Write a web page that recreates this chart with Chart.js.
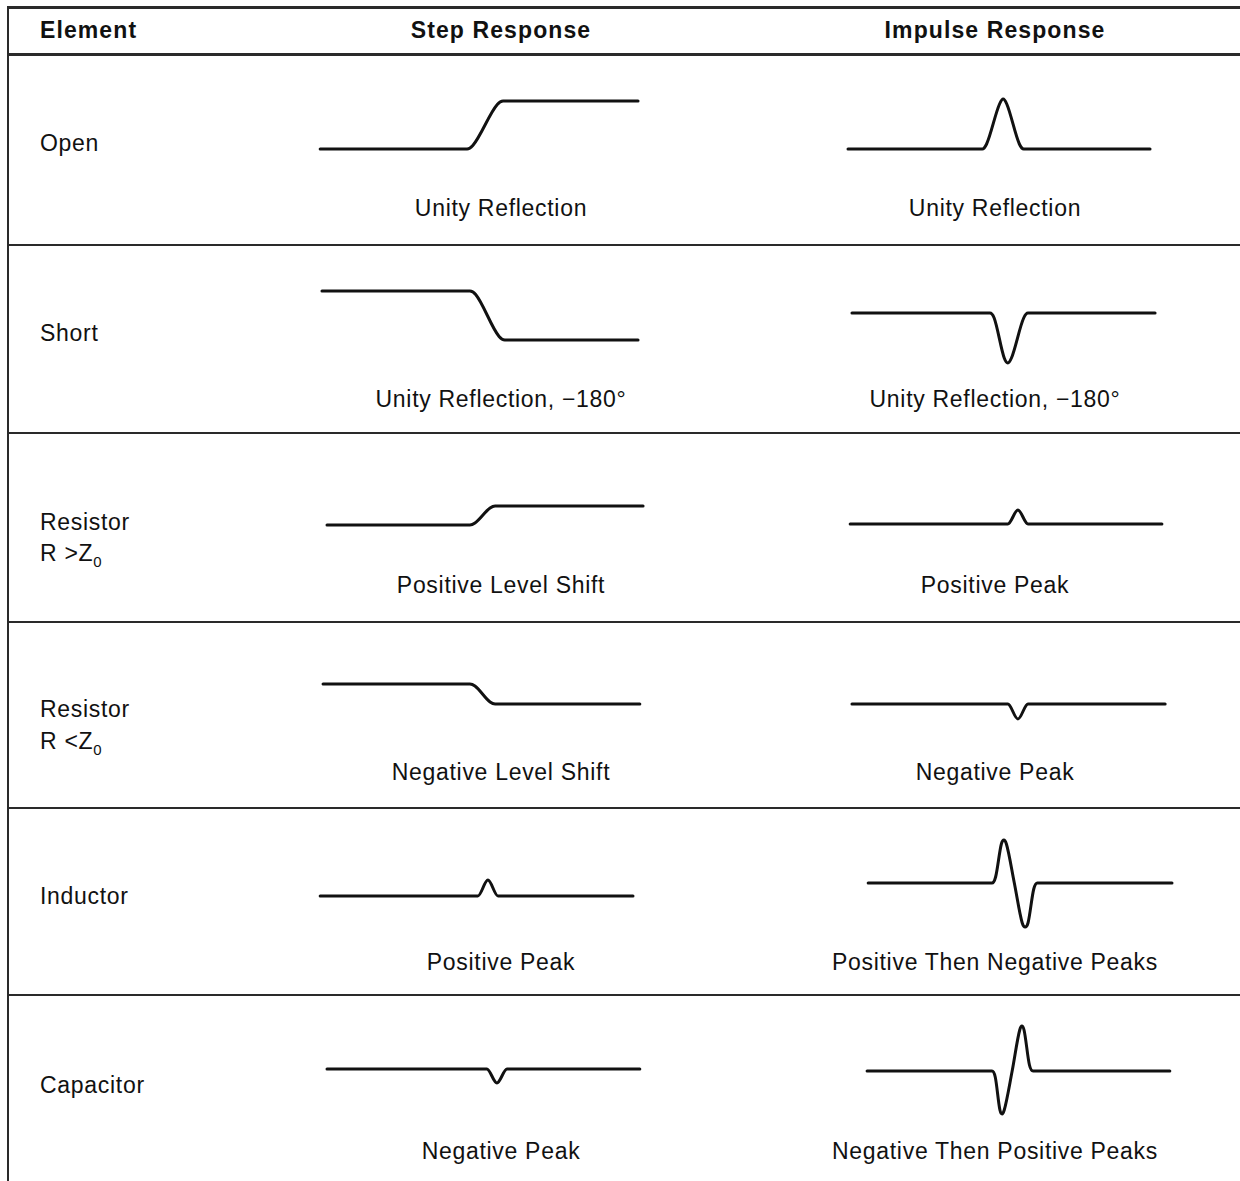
<!DOCTYPE html>
<html>
<head>
<meta charset="utf-8">
<script src="https://cdn.jsdelivr.net/npm/chart.js@4/dist/chart.umd.min.js"></script>
<style>
  html, body { margin: 0; padding: 0; background: #fff; }
  #page { position: relative; width: 1240px; height: 1181px; overflow: hidden; background: #fff;
          font-family: "Liberation Sans", Arial, Helvetica, sans-serif; color: #111; }
  .rule { position: absolute; background: #2a2a2a; }
  .txt { position: absolute; font-size: 23px; line-height: 22px; letter-spacing: 0.7px; white-space: nowrap; }
  .hdr { font-weight: bold; letter-spacing: 1.1px; }
  .ctr { transform: translateX(-50%); }
  .txt sub { font-size: 15px; line-height: 0; vertical-align: -6px; letter-spacing: 0; }
  canvas { position: absolute; }
</style>
</head>
<body>
<div id="page"></div>
<script>
// ---- data: time (arbitrary units 0..100 across a cell) and reflected level (unity = 1) ----
const openStepT  = [5.6, 46.4, 48.0, 54.8, 56.4, 93.9];
const openStepV  = [0, 0, 0.07, 0.89, 0.96, 0.96];
const openImpT   = [5.0, 42.3, 43.5, 47.1, 48.1, 49.1, 52.6, 53.8, 88.9];
const openImpV   = [0, 0, 0.1, 0.9, 1.0, 0.9, 0.1, 0, 0];

const shortStepT = [6.1, 47.2, 48.8, 55.3, 56.9, 93.9];
const shortStepV = [0, 0, -0.07, -0.91, -0.98, -0.98];
const shortImpT  = [6.1, 44.4, 45.6, 48.4, 49.4, 50.4, 53.8, 55.0, 90.3];
const shortImpV  = [0, 0, -0.1, -0.9, -1.0, -0.9, -0.1, 0, 0];

const rHighStepT = [7.5, 47.2, 48.6, 52.8, 54.2, 95.3];
const rHighStepV = [0, 0, 0.04, 0.34, 0.38, 0.38];
const rHighImpT  = [5.6, 49.4, 52.2, 55.0, 92.2];
const rHighImpV  = [0, 0, 0.28, 0, 0];

const rLowStepT  = [6.4, 47.2, 48.6, 52.8, 54.2, 94.4];
const rLowStepV  = [0, 0, -0.04, -0.36, -0.4, -0.4];
const rLowImpT   = [6.1, 49.4, 52.2, 55.0, 93.1];
const rLowImpV   = [0, 0, -0.3, 0, 0];

const indStepT   = [5.6, 49.4, 52.2, 55.0, 92.5];
const indStepV   = [0, 0, 0.32, 0, 0];
const indImpT    = [10.6, 45.0, 46.0, 47.6, 48.3, 49.0, 51.2, 53.4, 54.2, 55.0, 56.6, 57.6, 95.0];
const indImpV    = [0, 0, 0.12, 0.78, 0.86, 0.78, 0, -0.8, -0.88, -0.8, -0.12, 0, 0];

const capStepT   = [7.5, 51.9, 54.7, 57.5, 94.4];
const capStepV   = [0, 0, -0.28, 0, 0];
const capImpT    = [10.3, 45.0, 45.9, 47.2, 47.8, 48.4, 50.6, 52.7, 53.3, 53.9, 55.4, 56.4, 94.4];
const capImpV    = [0, 0, -0.12, -0.78, -0.86, -0.78, 0, 0.82, 0.9, 0.82, 0.12, 0, 0];

// ---- text ----
const headers = ["Element", "Step Response", "Impulse Response"];
const elementNames = ["Open", "Short", "Resistor", "Resistor", "Inductor", "Capacitor"];
const stepCaptions = ["Unity Reflection", "Unity Reflection, \u2212180\u00B0", "Positive Level Shift",
                      "Negative Level Shift", "Positive Peak", "Negative Peak"];
const impulseCaptions = ["Unity Reflection", "Unity Reflection, \u2212180\u00B0", "Positive Peak",
                         "Negative Peak", "Positive Then Negative Peaks", "Negative Then Positive Peaks"];

// ---- layout (pixels) ----
const page = document.getElementById('page');
const ruleYs = [7, 54, 245, 433, 622, 808, 995];
ruleYs.forEach((y, i) => {
  const d = document.createElement('div');
  d.className = 'rule';
  d.style.left = '7px'; d.style.top = (y - 1) + 'px';
  d.style.width = '1233px'; d.style.height = (i < 2 ? 3 : 2) + 'px';
  page.appendChild(d);
});
const vr = document.createElement('div');
vr.className = 'rule';
vr.style.left = '7px'; vr.style.top = '6px'; vr.style.width = '2px'; vr.style.height = '1175px';
page.appendChild(vr);

function addText(html, x, cy, cls) {
  const d = document.createElement('div');
  d.className = 'txt ' + (cls || '');
  d.innerHTML = html;
  d.style.left = x + 'px';
  d.style.top = (cy - 11) + 'px';
  page.appendChild(d);
}
addText(headers[0], 40, 30, 'hdr');
addText(headers[1], 501, 30, 'hdr ctr');
addText(headers[2], 995, 30, 'hdr ctr');

const nameY = [143, 333, 522, 709, 896, 1085];
const captionY = [208, 399, 585, 772, 962, 1151];
elementNames.forEach((n, i) => addText(n, 40, nameY[i]));
addText('R &gt;Z<sub>0</sub>', 40, 553);
addText('R &lt;Z<sub>0</sub>', 40, 741);
stepCaptions.forEach((c, i) => addText(c, 501, captionY[i], 'ctr'));
impulseCaptions.forEach((c, i) => addText(c, 995, captionY[i], 'ctr'));

// ---- waveform cells ----
const cells = [
  { t: openStepT,  v: openStepV,  left: 300, y0: 149 },
  { t: openImpT,   v: openImpV,   left: 830, y0: 149 },
  { t: shortStepT, v: shortStepV, left: 300, y0: 291 },
  { t: shortImpT,  v: shortImpV,  left: 830, y0: 313 },
  { t: rHighStepT, v: rHighStepV, left: 300, y0: 525 },
  { t: rHighImpT,  v: rHighImpV,  left: 830, y0: 524 },
  { t: rLowStepT,  v: rLowStepV,  left: 300, y0: 684 },
  { t: rLowImpT,   v: rLowImpV,   left: 830, y0: 704 },
  { t: indStepT,   v: indStepV,   left: 300, y0: 896 },
  { t: indImpT,    v: indImpV,    left: 830, y0: 883 },
  { t: capStepT,   v: capStepV,   left: 300, y0: 1069 },
  { t: capImpT,    v: capImpV,    left: 830, y0: 1071 }
];
const CW = 360, CH = 140;
cells.forEach(c => {
  const cv = document.createElement('canvas');
  cv.width = CW; cv.height = CH;
  cv.style.width = CW + 'px'; cv.style.height = CH + 'px';
  cv.style.left = c.left + 'px';
  cv.style.top = (c.y0 - CH / 2) + 'px';
  page.appendChild(cv);
  new Chart(cv, {
    type: 'line',
    data: {
      datasets: [{
        data: c.t.map((t, i) => ({ x: t, y: c.v[i] })),
        borderColor: '#111',
        borderWidth: 3,
        pointRadius: 0,
        cubicInterpolationMode: 'monotone',
        borderCapStyle: 'round',
        borderJoinStyle: 'round',
        fill: false
      }]
    },
    options: {
      responsive: false,
      animation: false,
      devicePixelRatio: 1,
      layout: { padding: 0 },
      plugins: { legend: { display: false }, tooltip: { enabled: false } },
      events: [],
      scales: {
        x: { type: 'linear', min: 0, max: 100, display: false },
        y: { type: 'linear', min: -1.4, max: 1.4, display: false }
      }
    }
  });
});
</script>
</body>
</html>
